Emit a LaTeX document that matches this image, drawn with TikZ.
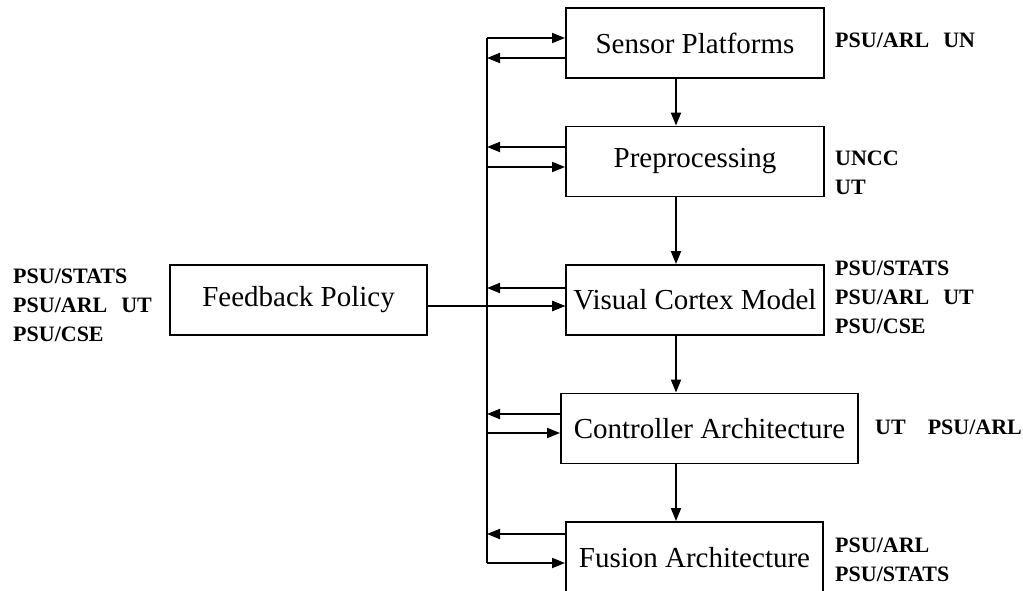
\documentclass[tikz,border=0pt]{standalone}
\usepackage{fontspec}
\setmainfont{Liberation Serif}
\usetikzlibrary{arrows.meta}

\tikzset{
  blk/.style={draw, line width=1.9pt, inner sep=0pt, minimum width=258pt, minimum height=70pt, font=\fontsize{29}{32}\selectfont},
  who/.style={anchor=west, align=left, inner sep=0pt, font=\bfseries\fontsize{22}{29}\selectfont},
  arr/.style={line width=1.9pt, -{Triangle[length=13pt,width=10pt]}},
  bus/.style={line width=1.9pt}
}

\begin{document}
\begin{tikzpicture}[x=1pt, y=-1pt]
\useasboundingbox (0,0) rectangle (1023,591);
\clip (0,0) rectangle (1023,591);
\node[blk] (sensor) at (695,43) {Sensor Platforms};
\node[blk] (prep) at (695,161.5) {Preprocessing};
\node[blk] (visual) at (695,300) {Visual Cortex Model};
\node[blk, minimum width=297pt] (ctrl) at (709.5,428.5) {Controller Architecture};
\node[blk, minimum width=257pt, minimum height=72pt] (fusion) at (694.5,558) {Fusion Architecture};
\node[blk, minimum width=257pt] (fb) at (298.5,300) {Feedback Policy};
\node[who] (sensorwho) at (835,40) {PSU/ARL\hspace{14pt}UN};
\node[who] (prepwho) at (835,173) {UNCC\\UT};
\node[who] (visualwho) at (835,297) {PSU/STATS\\PSU/ARL\hspace{14pt}UT\\PSU/CSE};
\node[who] (ctrlwho) at (875,427) {UT\hspace{22pt}PSU/ARL};
\node[who] (fusionwho) at (835,560) {PSU/ARL\\PSU/STATS};
\node[who] (fbwho) at (13,305) {PSU/STATS\\PSU/ARL\hspace{14pt}UT\\PSU/CSE};
\coordinate (bus) at (487,0);
\draw[bus] (bus |- 0,38) -- (bus |- 0,563);
\foreach \b/\o/\i in {sensor/58/38, prep/147/167, visual/288/306, ctrl/414/433, fusion/534/563} {
  \draw[arr] (\b.west |- 0,\o) -- (bus |- 0,\o);
  \draw[arr] (bus |- 0,\i) -- (\b.west |- 0,\i);
}
\draw[arr] (fb.east |- 0,306) -- (visual.west |- 0,306);
\foreach \a/\b in {sensor/prep, prep/visual, visual/ctrl, ctrl/fusion}
  \draw[arr] (\a.south -| 676,0) -- (\b.north -| 676,0);
\end{tikzpicture}
\end{document}
